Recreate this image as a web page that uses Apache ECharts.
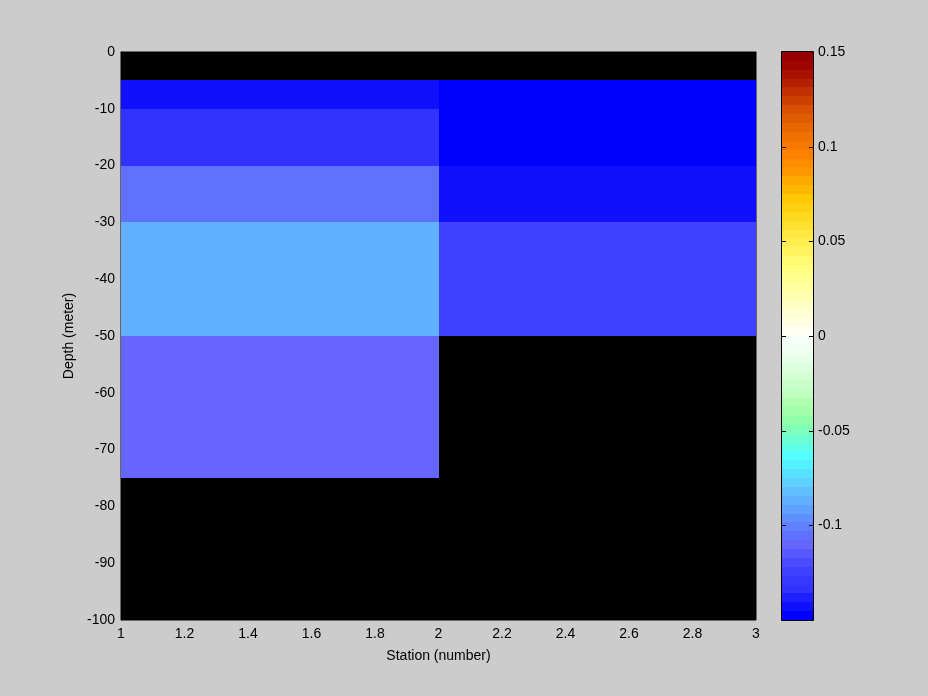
<!DOCTYPE html>
<html>
<head>
<meta charset="utf-8">
<script src="https://cdn.jsdelivr.net/npm/echarts@6/dist/echarts.min.js"></script>
<style>
html,body{margin:0;padding:0;background:#cccccc;}
#c{width:928px;height:696px;}
</style>
</head>
<body>
<div id="c"></div>
<script>
// ---- data ----
const stationEdges = [1, 2, 3];
const depthEdges = [0, -5, -10, -20, -30, -50, -75, -100];
// values per depth layer (top to bottom), null = no data
const station1Values = [null, -0.143, -0.134, -0.106, -0.087, -0.110, null];
const station2Values = [null, -0.148, -0.148, -0.143, -0.124, null, null];
const xTickLabels = ['1', '1.2', '1.4', '1.6', '1.8', '2', '2.2', '2.4', '2.6', '2.8', '3'];
const yTickLabels = ['-100', '-90', '-80', '-70', '-60', '-50', '-40', '-30', '-20', '-10', '0'];
const cbarTickLabels = ['', '-0.1', '-0.05', '0', '0.05', '0.1', '0.15'];
const cbarTicks = [-0.1, -0.05, 0, 0.05, 0.1];
const cMin = -0.15, cMax = 0.15;
// colormap, bottom (cMin) to top (cMax)
const colormap = [
 '#0000FF','#1010FF','#2020FF','#3333FF','#3838FF','#4040FF','#4C4CFF','#5858FF',
 '#6666FF','#6070FF','#6080FF','#6090FF','#60A0FF','#60B0FF','#60C0FF','#5CD0FF',
 '#58E0FF','#55F0FF','#55FFFF','#60FFE8','#70FFD0','#80FFB8','#90FFA8','#A0FFA8',
 '#B0FFB0','#C0FFC0','#C8FFC8','#D4FFD4','#DEFFDE','#E8FFE8','#F0FFF0','#F8FFF8',
 '#FFFFF4','#FFFFE4','#FFFFD4','#FFFFC4','#FFFFB0','#FFFFA0','#FFFF90','#FFFF80',
 '#FFFA70','#FFF460','#FFEE50','#FFE840','#FFE030','#FFD820','#FFD010','#FFC800',
 '#FFB800','#FFA800','#FF9800','#FF8C00','#FF8000','#F87800','#F07000','#E86800',
 '#E05C00','#D85000','#CC4000','#C03000','#B42000','#A81000','#A00400','#960000'
];

function colorOf(v) {
  let i = Math.floor((v - cMin) / (cMax - cMin) * colormap.length);
  i = Math.max(0, Math.min(colormap.length - 1, i));
  return colormap[i];
}

const cellData = [];
[station1Values, station2Values].forEach(function (col, ci) {
  col.forEach(function (v, ri) {
    if (v === null) return;
    cellData.push([stationEdges[ci], stationEdges[ci + 1], depthEdges[ri], depthEdges[ri + 1], v]);
  });
});

const bandData = colormap.map(function (c, i) {
  const step = (cMax - cMin) / colormap.length;
  return [cMin + i * step, cMin + (i + 1) * step, i];
});

function pixRect(p0, p1, fill) {
  const x0 = Math.round(Math.min(p0[0], p1[0])), x1 = Math.round(Math.max(p0[0], p1[0]));
  const y0 = Math.round(Math.min(p0[1], p1[1])), y1 = Math.round(Math.max(p0[1], p1[1]));
  return {type: 'rect', shape: {x: x0, y: y0, width: x1 - x0, height: y1 - y0},
          style: {fill: fill, lineWidth: 0}};
}

const font = 'Liberation Sans, Arial, sans-serif';
const fs = 14;
const cbL = 782, cbT = 52, cbW = 31, cbH = 568;
const chart = echarts.init(document.getElementById('c'), null, {renderer: 'canvas'});
chart.setOption({
  backgroundColor: '#cccccc',
  animation: false,
  grid: [
    {left: 121, top: 52, width: 635, height: 568, show: true, backgroundColor: '#000000', borderColor: '#000000', borderWidth: 1},
    {left: cbL, top: cbT, width: cbW, height: cbH, show: false}
  ],
  xAxis: [
    {type: 'value', gridIndex: 0, min: 1, max: 3, interval: 0.2,
     name: 'Station (number)', nameLocation: 'middle', nameGap: 29,
     nameTextStyle: {color: '#000', fontSize: fs, fontFamily: font},
     axisLine: {show: true, lineStyle: {color: '#000'}},
     axisTick: {show: false},
     splitLine: {show: false},
     axisLabel: {color: '#000', fontSize: fs, fontFamily: font, margin: 7,
       formatter: function (v) { return xTickLabels[Math.round((v - 1) / 0.2)]; }}},
    {type: 'value', gridIndex: 1, min: 0, max: 1, show: false}
  ],
  yAxis: [
    {type: 'value', gridIndex: 0, min: -100, max: 0, interval: 10,
     name: 'Depth (meter)', nameLocation: 'middle', nameGap: 41, nameRotate: 90,
     nameTextStyle: {color: '#000', fontSize: fs, fontFamily: font},
     axisLine: {show: true, lineStyle: {color: '#000'}},
     axisTick: {show: false},
     splitLine: {show: false},
     axisLabel: {color: '#000', fontSize: fs, fontFamily: font, margin: 6,
       formatter: function (v) { return yTickLabels[Math.round((v + 100) / 10)]; }}},
    {type: 'value', gridIndex: 1, min: cMin, max: cMax, interval: 0.05, position: 'right',
     axisLine: {show: false},
     axisTick: {show: false},
     splitLine: {show: false},
     axisLabel: {color: '#000', fontSize: fs, fontFamily: font, margin: 5,
       formatter: function (v) { return cbarTickLabels[Math.round((v - cMin) / 0.05)]; }}}
  ],
  series: [
    {type: 'custom', xAxisIndex: 0, yAxisIndex: 0, data: cellData, clip: true, z: 2,
     encode: {x: [0, 1], y: [2, 3]},
     renderItem: function (params, api) {
       const p0 = api.coord([api.value(0), api.value(2)]);
       const p1 = api.coord([api.value(1), api.value(3)]);
       return pixRect(p0, p1, colorOf(api.value(4)));
     }},
    {type: 'custom', xAxisIndex: 1, yAxisIndex: 1, data: bandData, clip: true, z: 2,
     encode: {y: [0, 1]},
     renderItem: function (params, api) {
       const p0 = api.coord([0, api.value(1)]);
       const p1 = api.coord([1, api.value(0)]);
       return pixRect(p0, p1, colormap[api.value(2)]);
     }},
    {type: 'custom', xAxisIndex: 1, yAxisIndex: 1, data: cbarTicks.map(function (t) { return [t]; }), z: 5,
     encode: {y: 0},
     renderItem: function (params, api) {
       const pl = api.coord([0, api.value(0)]);
       const pr = api.coord([1, api.value(0)]);
       const y = Math.round(pl[1]) + 0.5;
       return {type: 'group', children: [
         {type: 'line', shape: {x1: pl[0], y1: y, x2: pl[0] + 4, y2: y}, style: {stroke: '#000', lineWidth: 1}},
         {type: 'line', shape: {x1: pr[0] - 4, y1: y, x2: pr[0], y2: y}, style: {stroke: '#000', lineWidth: 1}}
       ]};
     }}
  ],
  graphic: [
    {type: 'rect', z: 100, silent: true,
     shape: {x: cbL - 0.5, y: cbT - 0.5, width: cbW + 1, height: cbH + 1},
     style: {fill: 'transparent', stroke: '#000000', lineWidth: 1}}
  ]
});
</script>
</body>
</html>
